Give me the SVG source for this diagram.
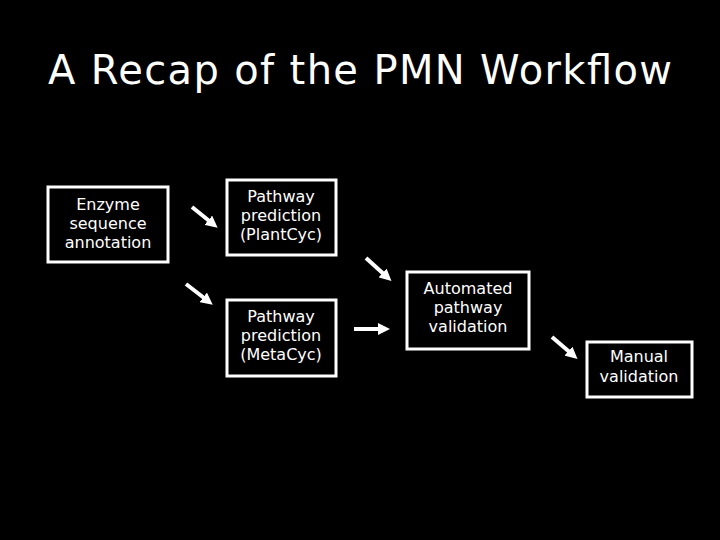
<svg xmlns="http://www.w3.org/2000/svg" width="720" height="540" viewBox="0 0 720 540">
<style>
.b{fill:#000;stroke:#fff;stroke-width:3}
.t{fill:#fff;font-family:"DejaVu Sans",sans-serif;font-size:16px;text-anchor:middle}
.c line{stroke:#fff;stroke-width:4}
</style>
<defs><marker id="a" markerWidth="3" markerHeight="3" refX="1.5" refY="1.5" orient="auto"><path d="M0,0L3,1.5L0,3z" fill="#fff"/></marker></defs>
<rect width="720" height="540" fill="#000"/>
<text x="360" y="84" fill="#fff" font-family="DejaVu Sans,sans-serif" font-size="40" text-anchor="middle" textLength="624">A Recap of the PMN Workflow</text>
<g id="enzyme"><rect class="b" x="48" y="187" width="120" height="75"/><text class="t" x="108" y="210">Enzyme</text><text class="t" x="108" y="229">sequence</text><text class="t" x="108" y="248">annotation</text></g>
<g id="plantcyc"><rect class="b" x="227" y="180" width="109" height="75"/><text class="t" x="281" y="202">Pathway</text><text class="t" x="281" y="221">prediction</text><text class="t" x="281" y="240">(PlantCyc)</text></g>
<g id="metacyc"><rect class="b" x="227" y="300" width="109" height="76"/><text class="t" x="281" y="322">Pathway</text><text class="t" x="281" y="341">prediction</text><text class="t" x="281" y="360">(MetaCyc)</text></g>
<g id="automated"><rect class="b" x="407" y="272" width="122" height="77"/><text class="t" x="468" y="294">Automated</text><text class="t" x="468" y="313">pathway</text><text class="t" x="468" y="332">validation</text></g>
<g id="manual"><rect class="b" x="587" y="342" width="105" height="55"/><text class="t" x="639" y="362">Manual</text><text class="t" x="639" y="382">validation</text></g>
<g class="c">
<line x1="192" y1="207" x2="213" y2="224" marker-end="url(#a)"/>
<line x1="186" y1="284" x2="208" y2="301" marker-end="url(#a)"/>
<line x1="366" y1="258" x2="387" y2="277" marker-end="url(#a)"/>
<line x1="354" y1="329" x2="384" y2="329" marker-end="url(#a)"/>
<line x1="552" y1="337" x2="573" y2="355" marker-end="url(#a)"/>
</g>
</svg>
